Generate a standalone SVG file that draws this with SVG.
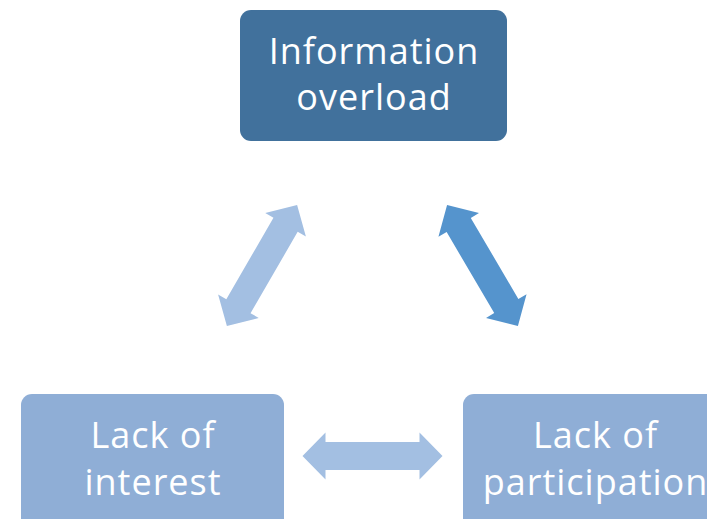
<svg xmlns="http://www.w3.org/2000/svg" width="707" height="519" viewBox="0 0 707 519">
  <style>
    .lbl { font-family: "Open Sans", "Noto Sans", "Liberation Sans", sans-serif; font-size: 36px; letter-spacing: 1px; fill: #FFFFFF; text-anchor: middle; }
    .top { fill: #41719C; }
    .bot { fill: #8FAED6; }
    .light { fill: #A3BFE2; }
    .dark { fill: #5594CD; }
  </style>
  <defs>
    <polygon id="dbl" points="-70,0 -47,-23.5 -47,-14 47,-14 47,-23.5 70,0 47,23.5 47,14 -47,14 -47,23.5"/>
  </defs>
  <rect width="707" height="519" fill="#FFFFFF"/>
  <g id="connectors">
    <use href="#dbl" class="light" transform="translate(262,265.5) rotate(-59.9)"/>
    <use href="#dbl" class="dark" transform="translate(482.5,265.5) rotate(59.6)"/>
    <use href="#dbl" class="light" transform="translate(372.5,456)"/>
  </g>
  <g id="info-overload">
    <rect class="top" x="240" y="10" width="267" height="131" rx="11"/>
    <text class="lbl" x="374" y="64">Information</text>
    <text class="lbl" x="374" y="110">overload</text>
  </g>
  <g id="lack-interest">
    <rect class="bot" x="21" y="394" width="263" height="140" rx="11"/>
    <text class="lbl" x="153" y="448">Lack of</text>
    <text class="lbl" x="153" y="495">interest</text>
  </g>
  <g id="lack-participation">
    <rect class="bot" x="463" y="394" width="264" height="140" rx="11"/>
    <text class="lbl" x="595.5" y="448">Lack of</text>
    <text class="lbl" x="595.5" y="495">participation</text>
  </g>
</svg>
